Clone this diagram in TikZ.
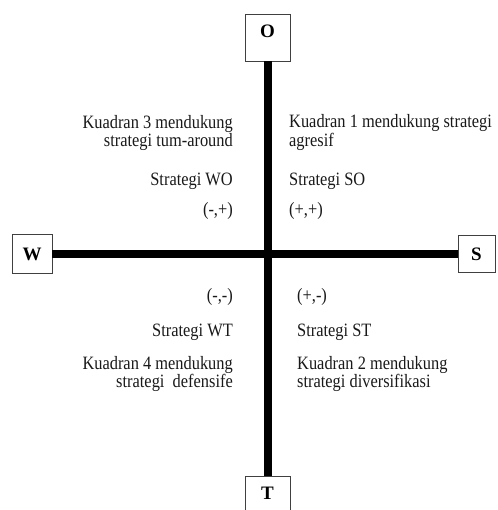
\documentclass[tikz,border=0pt]{standalone}
\usepackage{fontspec}
\setmainfont{Liberation Serif}
\newcommand{\vstretch}[1]{\scalebox{1}[1.15]{#1}}
\begin{document}
\begin{tikzpicture}[x=1pt,y=-1pt,
  box/.style={draw=black!75, line width=0.9pt, inner sep=0pt, fill=white,
    font=\fontsize{19}{19}\selectfont\bfseries},
  boxtop/.style={box, minimum width=45pt, minimum height=47pt, text height=13pt, text depth=13pt},
  boxside/.style={box, text height=13pt, text depth=0pt},
  axis/.style={line width=8pt, black},
  txt/.style={inner sep=0pt, font=\fontsize{16.4}{18}\selectfont, text=black!90},
  lt/.style={txt, anchor=base east},
  rt/.style={txt, anchor=base west}]
\useasboundingbox (0,0) rectangle (497,510);
\clip (0,0) rectangle (497,510);
% boxes
\node[boxtop] (O) at (267.5,37.5) {O};
\node[boxtop] (T) at (267.5,499.5) {T};
\node[boxside, minimum width=40pt, minimum height=39pt] (W) at (32,253.5) {W};
\node[boxside, minimum width=37pt, minimum height=37pt] (S) at (476.5,253.5) {S};
% axes
\draw[axis] (O.south) -- (T.north);
\draw[axis] (W.east) -- (S.west);
% quadrant 3 (upper left)
\node[lt] (q3a) at (233,129) {\vstretch{Kuadran 3 mendukung}};
\node[lt] (q3b) at (233,147) {\vstretch{strategi tum-around}};
\node[lt] (q3c) at (233,186) {\vstretch{Strategi WO}};
\node[lt] (q3d) at (233,215) {\vstretch{(-,+)}};
% quadrant 1 (upper right)
\node[rt] (q1a) at (289,128) {\vstretch{Kuadran 1 mendukung strategi}};
\node[rt] (q1b) at (289,147) {\vstretch{agresif}};
\node[rt] (q1c) at (289,186) {\vstretch{Strategi SO}};
\node[rt] (q1d) at (289,215) {\vstretch{(+,+)}};
% quadrant 4 (lower left)
\node[lt] (q4a) at (233,301) {\vstretch{(-,-)}};
\node[lt] (q4b) at (233,336) {\vstretch{Strategi WT}};
\node[lt] (q4c) at (233,369) {\vstretch{Kuadran 4 mendukung}};
\node[lt] (q4d) at (233,387) {\vstretch{strategi\ \ defensife}};
% quadrant 2 (lower right)
\node[rt] (q2a) at (297,301) {\vstretch{(+,-)}};
\node[rt] (q2b) at (297,336) {\vstretch{Strategi ST}};
\node[rt] (q2c) at (297,369) {\vstretch{Kuadran 2 mendukung}};
\node[rt] (q2d) at (297,387) {\vstretch{strategi diversifikasi}};
\end{tikzpicture}
\end{document}
